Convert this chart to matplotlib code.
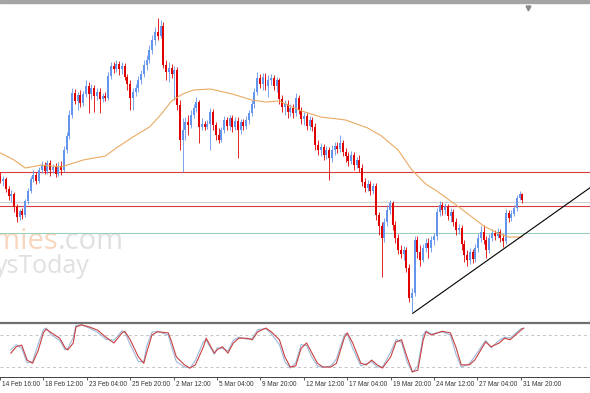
import matplotlib.pyplot as plt
from matplotlib.patches import Rectangle
from matplotlib.transforms import ScaledTranslation

# H4 candles, price in points (the chart shows no price scale)
opens = [154, 149, 151, 141, 134, 136, 123, 113, 119, 115,
         129, 139, 151, 155, 149, 160, 165, 159, 167, 160,
         163, 156, 164, 160, 180, 194, 215, 237, 229, 235,
         227, 236, 244, 236, 242, 234, 238, 231, 234, 232,
         254, 264, 261, 266, 261, 264, 253, 246, 232, 238,
         242, 250, 256, 265, 270, 280, 290, 298, 294, 304,
         265, 258, 262, 256, 260, 225, 190, 200, 208, 205,
         215, 222, 228, 203, 206, 203, 206, 218, 205, 195,
         190, 200, 210, 204, 212, 203, 209, 200, 208, 204,
         210, 217, 226, 238, 252, 246, 253, 244, 250, 252,
         244, 250, 231, 223, 226, 218, 222, 217, 232, 220,
         211, 214, 204, 210, 203, 185, 180, 183, 175, 180,
         172, 180, 184, 181, 187, 178, 174, 169, 175, 165,
         170, 162, 148, 142, 146, 139, 144, 115, 104, 92,
         108, 120, 127, 105, 92, 80, 76, 80, 62, 32,
         37, 90, 78, 70, 82, 87, 82, 90, 94, 118,
         125, 120, 123, 114, 118, 108, 100, 102, 86, 75,
         70, 78, 71, 82, 92, 98, 90, 80, 92, 97,
         94, 98, 92, 89, 117, 112, 116, 122, 132, 136]
highs = [158, 154, 153, 144, 140, 138, 126, 121, 122, 131,
         142, 154, 160, 158, 163, 169, 168, 170, 170, 166,
         167, 168, 169, 184, 198, 220, 242, 241, 238, 240,
         239, 250, 248, 246, 245, 242, 242, 237, 238, 258,
         268, 268, 270, 269, 268, 267, 256, 250, 242, 246,
         254, 260, 270, 275, 285, 295, 303, 312, 310, 308,
         270, 268, 266, 264, 263, 230, 212, 213, 215, 220,
         226, 233, 230, 212, 209, 210, 222, 221, 208, 202,
         203, 214, 213, 215, 215, 213, 213, 211, 211, 214,
         220, 230, 242, 258, 256, 257, 257, 255, 256, 255,
         253, 252, 235, 230, 230, 226, 226, 237, 235, 223,
         218, 217, 214, 213, 207, 190, 187, 186, 184, 183,
         185, 188, 188, 195, 190, 182, 178, 179, 178, 173,
         175, 166, 152, 150, 149, 147, 147, 118, 108, 112,
         125, 130, 129, 109, 96, 85, 84, 83, 66, 42,
         94, 94, 85, 86, 92, 92, 94, 97, 122, 129,
         128, 127, 126, 122, 121, 112, 106, 105, 90, 80,
         82, 81, 86, 97, 104, 105, 94, 96, 101, 100,
         102, 101, 96, 121, 120, 120, 125, 135, 139, 137]
lows = [147, 144, 138, 130, 128, 118, 108, 110, 111, 113,
        126, 137, 148, 146, 147, 157, 156, 156, 154, 157,
        153, 154, 155, 158, 177, 191, 212, 226, 220, 223,
        224, 233, 217, 231, 218, 230, 217, 228, 229, 230,
        251, 257, 258, 255, 256, 250, 240, 220, 220, 234,
        238, 246, 253, 260, 267, 276, 285, 290, 292, 262,
        250, 248, 252, 230, 220, 180, 158, 190, 195, 202,
        212, 218, 187, 200, 200, 201, 180, 200, 190, 187,
        188, 197, 200, 200, 198, 200, 172, 196, 200, 201,
        206, 214, 222, 235, 242, 240, 240, 233, 245, 240,
        238, 226, 218, 215, 212, 214, 212, 214, 216, 206,
        205, 200, 200, 199, 180, 175, 174, 170, 171, 150,
        168, 175, 177, 178, 174, 168, 164, 166, 160, 162,
        158, 144, 138, 139, 135, 136, 110, 95, 53, 88,
        104, 116, 100, 87, 76, 72, 70, 58, 28, 18,
        34, 72, 64, 68, 78, 72, 78, 85, 90, 114,
        115, 116, 110, 108, 104, 95, 96, 80, 68, 64,
        66, 67, 68, 78, 88, 86, 72, 77, 89, 90,
        92, 88, 83, 86, 108, 109, 114, 119, 130, 127]
closes = [149, 151, 141, 134, 136, 123, 113, 119, 115, 129,
          139, 151, 155, 149, 160, 165, 159, 167, 160, 163,
          156, 164, 160, 180, 194, 215, 237, 229, 235, 227,
          236, 244, 236, 242, 234, 238, 231, 234, 232, 254,
          264, 261, 266, 261, 264, 253, 246, 232, 238, 242,
          250, 256, 265, 270, 280, 290, 298, 294, 304, 265,
          258, 262, 256, 260, 225, 190, 200, 208, 205, 215,
          222, 228, 203, 206, 203, 206, 218, 205, 195, 190,
          200, 210, 204, 212, 203, 209, 200, 208, 204, 210,
          217, 226, 238, 252, 246, 253, 244, 250, 252, 244,
          250, 231, 223, 226, 218, 222, 217, 232, 220, 211,
          214, 204, 210, 203, 185, 180, 183, 175, 180, 172,
          180, 184, 181, 187, 178, 174, 169, 175, 165, 170,
          162, 148, 142, 146, 139, 144, 115, 104, 92, 108,
          120, 127, 105, 92, 80, 76, 80, 62, 32, 37,
          90, 78, 70, 82, 87, 82, 90, 94, 118, 125,
          120, 123, 114, 118, 108, 100, 102, 86, 75, 70,
          78, 71, 82, 92, 98, 90, 80, 92, 97, 94,
          98, 92, 89, 117, 112, 116, 122, 132, 136, 130]

# moving average (orange) read at some bars
ma_idx = [0, 5, 9, 15, 22, 30, 38, 42, 48, 54, 58, 62, 66, 70, 76, 84, 91, 96,
          101, 108, 116, 125, 133, 138, 144, 149, 154, 158, 166, 175, 180, 184, 189]
ma_val = [177, 170, 162, 165, 163, 170, 174, 182, 193, 203, 215, 229, 236, 240, 241, 236, 230, 228,
          229, 220, 213, 210, 202, 194, 180, 160, 146, 139, 123, 104, 97, 93, 93]

# stochastic oscillator: light blue = main, red = signal
stoch_idx = [0, 2, 4, 6, 8, 10, 12, 13, 15, 18, 20, 21, 23, 24, 26, 29, 32, 35, 38, 41,
             42, 44, 47, 49, 50, 52, 54, 58, 59, 61, 64, 66, 68, 71, 72, 75, 76, 78, 80, 82,
             84, 87, 89, 91, 94, 96, 99, 101, 103, 105, 107, 109, 111, 113, 115, 118, 120, 123, 124, 126,
             129, 131, 133, 135, 137, 140, 142, 144, 146, 148, 150, 152, 153, 155, 159, 162, 164, 166, 169, 171,
             175, 177, 180, 182, 184, 188, 189]
stoch_main = [52, 62, 55, 28, 30, 62, 90, 93, 80, 70, 52, 55, 75, 98, 99, 93, 85, 72, 70, 88,
              85, 62, 30, 30, 58, 85, 87, 80, 62, 30, 20, 18, 32, 68, 70, 44, 56, 55, 50, 70,
              76, 72, 74, 90, 92, 82, 62, 30, 18, 28, 62, 60, 38, 22, 19, 22, 35, 82, 82, 55,
              22, 26, 30, 20, 20, 48, 72, 66, 30, 10, 22, 80, 88, 82, 86, 80, 45, 20, 26, 40,
              70, 56, 70, 76, 74, 92, 92]
stoch_signal = [46, 58, 61, 33, 27, 50, 84, 91, 84, 74, 56, 52, 65, 95, 99, 95, 89, 76, 65, 84,
                87, 71, 39, 27, 46, 80, 86, 84, 71, 39, 24, 18, 24, 58, 74, 46, 52, 58, 46, 65,
                74, 74, 71, 86, 93, 86, 71, 39, 20, 22, 55, 65, 46, 27, 20, 20, 27, 76, 84, 65,
                27, 24, 33, 24, 18, 39, 67, 71, 39, 11, 14, 71, 86, 80, 87, 84, 58, 24, 24, 33,
                67, 58, 65, 74, 71, 89, 93]
stoch_levels = [20, 80]

# drawn objects
red_levels = [157.7, 124.5]
gray_level = 127.7
green_level = 96.7
trend_x = [149.3, 213.5]
trend_y = [16.7, 142.3]

tick_pos = [-4, 12, 28, 44, 60, 76, 92, 108, 124, 140, 156, 172, 188]
tick_labels = ['14 Feb 16:00', '18 Feb 12:00', '23 Feb 04:00', '25 Feb 20:00', '2 Mar 12:00',
               '5 Mar 04:00', '9 Mar 20:00', '12 Mar 12:00', '17 Mar 04:00', '19 Mar 20:00',
               '24 Mar 12:00', '27 Mar 04:00', '31 Mar 20:00']

W, H = 590, 393
fig = plt.figure(figsize=(W / 100, H / 100), dpi=100)
xlim = (-0.11, 213.47)

# watermark behind everything (cut by the left edge, as on the screenshot)
fig.text(58 / W, 1 - 249 / H, 'Economies', ha='right', va='baseline', fontsize=21,
         family='Open Sans', color='#f8d6be', zorder=-1)
fig.text(58 / W, 1 - 249 / H, '.com', ha='left', va='baseline', fontsize=21,
         family='Open Sans', color='#e0e0e0', zorder=-1)
fig.text(-5 / W, 1 - 273 / H, 'ysToday', ha='left', va='baseline', fontsize=18,
         family='Open Sans', color='#e0e0e0', zorder=-1)

# gray window border at the top
fig.patches.append(Rectangle((0, 1 - 3 / H), 1, 3 / H, transform=fig.transFigure,
                             color='#a4a4a4', zorder=5))

# ─── price panel ───
ax = fig.add_axes([0, (H - 321) / H, 1, 316 / H])
ax.set_facecolor('none')
ax.set_xlim(*xlim)
ax.set_ylim(9, 325)
ax.axis('off')

for lvl in red_levels:
    ax.axhline(lvl, color='#dc3a3a', lw=0.8, zorder=1)
ax.axhline(gray_level, color='#cfcfcf', lw=0.8, zorder=1)
ax.axhline(green_level, color='#9ad3b8', lw=0.8, zorder=1)

xs = list(range(len(opens)))
cols = ['#6495ed' if c >= o else '#e00000' for o, c in zip(opens, closes)]
ax.vlines(xs, lows, highs, colors=cols, lw=0.6, zorder=2)
ax.bar(xs, [abs(c - o) for o, c in zip(opens, closes)], bottom=[min(o, c) for o, c in zip(opens, closes)],
       width=0.72, color=cols, linewidth=0, zorder=3)

ax.plot(ma_idx, ma_val, color='#e9aa62', lw=0.8, zorder=4)
ax.plot(trend_x, trend_y, color='black', lw=0.8, zorder=4)
ax.plot([191], [322], marker='v', ms=3.5, color='#8a8a8a', clip_on=False, zorder=6)

# ─── stochastic panel ───
osc = fig.add_axes([0, (H - 377) / H, 1, 54 / H])
osc.set_xlim(*xlim)
osc.set_ylim(1.25, 102.5)
for s in ['left', 'right']:
    osc.spines[s].set_visible(False)
osc.spines['top'].set_color('#707070')
osc.spines['top'].set_linewidth(1.6)
osc.spines['bottom'].set_color('#404040')
osc.spines['bottom'].set_linewidth(0.7)
osc.set_yticks([])
for lvl in stoch_levels:
    osc.axhline(lvl, color='#c4c4c4', lw=0.7, ls=(0, (3, 3)))
osc.plot(stoch_idx, stoch_main, color='#9db9da', lw=0.8)
osc.plot(stoch_idx, stoch_signal, color='#c84040', lw=0.8)

osc.set_xticks(tick_pos)
osc.set_xticklabels(tick_labels, ha='left', fontsize=4.7, family='Liberation Sans', color='#333333')
osc.tick_params(axis='x', direction='out', length=2.2, width=0.6, color='#404040', pad=0.6)
offset = ScaledTranslation(2 / 100, 0, fig.dpi_scale_trans)
for lab in osc.get_xticklabels():
    lab.set_transform(lab.get_transform() + offset)

fig.savefig('out.png', dpi=100)
